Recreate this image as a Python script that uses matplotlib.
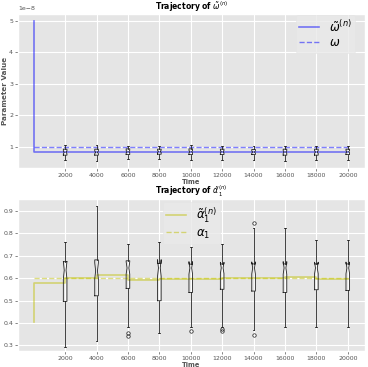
import matplotlib
matplotlib.use("Agg")
import matplotlib.pyplot as plt
import numpy as np

plt.style.use('ggplot')

# box positions (time)
positions = [2000, 4000, 6000, 8000, 10000, 12000, 14000, 16000, 18000, 20000]
n_runs = 50

# omega boxes (units of 1e-8)
om_whislo = [0.60, 0.55, 0.62, 0.62, 0.60, 0.60, 0.60, 0.55, 0.58, 0.60]
om_q1 = [0.74, 0.74, 0.76, 0.77, 0.76, 0.76, 0.76, 0.74, 0.74, 0.76]
om_med = [0.83, 0.83, 0.85, 0.86, 0.85, 0.85, 0.84, 0.84, 0.84, 0.85]
om_q3 = [0.93, 0.93, 0.94, 0.93, 0.94, 0.93, 0.92, 0.93, 0.93, 0.93]
om_whishi = [1.06, 1.05, 1.04, 1.03, 1.05, 1.03, 1.04, 1.03, 1.04, 1.02]

# omega trajectory (steps) and true value
om_t = [0, 1, 6000, 20000]
om_traj = [5.0, 0.83, 0.85, 0.85]
om_true = 1.0

# alpha_1 boxes
al_whislo = [0.295, 0.318, 0.383, 0.356, 0.383, 0.383, 0.370, 0.380, 0.380, 0.383]
al_q1 = [0.496, 0.521, 0.554, 0.499, 0.536, 0.550, 0.542, 0.536, 0.548, 0.545]
al_med = [0.635, 0.632, 0.645, 0.645, 0.645, 0.645, 0.645, 0.645, 0.645, 0.645]
al_q3 = [0.673, 0.681, 0.677, 0.665, 0.662, 0.663, 0.663, 0.663, 0.663, 0.663]
al_whishi = [0.759, 0.919, 0.750, 0.759, 0.737, 0.753, 0.822, 0.824, 0.769, 0.769]
al_fliers = [[], [], [0.355, 0.340], [], [0.365], [0.375, 0.365], [0.844, 0.346], [], [], []]

# alpha_1 trajectory (steps) and true value
al_t = [0, 1, 2000, 4000, 6000, 8000, 12000, 16000, 18000, 20000]
al_traj = [0.405, 0.578, 0.600, 0.612, 0.592, 0.597, 0.600, 0.603, 0.598, 0.598]
al_true = 0.6


def make_stats(lo, q1, med, q3, hi, fliers, scale=1.0):
    stats = []
    for i in range(len(med)):
        h = 1.57 * (q3[i] - q1[i]) / np.sqrt(n_runs)
        stats.append(dict(whislo=lo[i] * scale, q1=q1[i] * scale, med=med[i] * scale,
                          q3=q3[i] * scale, whishi=hi[i] * scale,
                          cilo=(med[i] - h) * scale, cihi=(med[i] + h) * scale,
                          fliers=np.array(fliers[i]) * scale))
    return stats


def draw(ax, stats, t, traj, true_val, color, labels, title, legend_loc, bbox, scale=1.0):
    ax.plot(t, np.array(traj) * scale, drawstyle='steps-post', color=color, alpha=0.5,
            lw=1.2, label=labels[0])
    ax.plot([t[0], t[-1]], [true_val * scale] * 2, '--', color=color, alpha=0.5,
            lw=1.0, label=labels[1])
    line = dict(color='#222222', lw=0.6)
    ax.bxp(stats, positions=positions, widths=230, shownotches=True,
           boxprops=line, whiskerprops=line, capprops=line,
           medianprops=dict(color='black', lw=0.0),
           flierprops=dict(marker='o', markersize=2.5, markerfacecolor='none',
                           markeredgecolor='#222222', markeredgewidth=0.5))
    ax.set_xticks(positions)
    ax.set_xticklabels([str(p) for p in positions])
    ax.set_xlim(-1000, 21100)
    ax.tick_params(labelsize=4.5, length=2, width=0.5, pad=1.5)
    ax.set_title(title, fontsize=5.5, fontweight='bold', pad=2)
    ax.set_xlabel('Time', fontsize=4.8, fontweight='bold', labelpad=0.5)
    ax.set_ylabel('Parameter Value', fontsize=5.2, fontweight='bold', labelpad=1)
    leg = ax.legend(loc=legend_loc, bbox_to_anchor=bbox, fontsize=8.5, handlelength=1.7,
                    labelspacing=0.15, borderaxespad=0.1, borderpad=0.3)
    leg.get_frame().set_edgecolor('#E5E5E5')
    leg.get_frame().set_facecolor('#E9E9E9')


fig = plt.figure(figsize=(3.68, 3.67), dpi=100)
ax1 = fig.add_axes([0.049, 0.542, 0.943, 0.42])
ax2 = fig.add_axes([0.049, 0.0436, 0.943, 0.414])

s1 = make_stats(om_whislo, om_q1, om_med, om_q3, om_whishi, [[]] * 10, scale=1e-8)
draw(ax1, s1, om_t, om_traj, om_true, 'blue',
     [r'$\tilde{\omega}^{(n)}$', r'$\omega$'],
     r'Trajectory of $\tilde{\omega}^{(n)}$', 'upper right', (0.975, 1.0), scale=1e-8)
ax1.set_ylim(0.33e-8, 5.22e-8)
ax1.set_yticks([1e-8, 2e-8, 3e-8, 4e-8, 5e-8])
ax1.yaxis.get_offset_text().set_fontsize(4.5)

s2 = make_stats(al_whislo, al_q1, al_med, al_q3, al_whishi, al_fliers)
draw(ax2, s2, al_t, al_traj, al_true, 'y',
     [r'$\tilde{\alpha}_1^{(n)}$', r'$\alpha_1$'],
     r'Trajectory of $\tilde{\alpha}_1^{(n)}$', 'upper center', (0.5, 0.99))
ax2.set_ylim(0.275, 0.952)

fig.savefig('out.png', dpi=100)
